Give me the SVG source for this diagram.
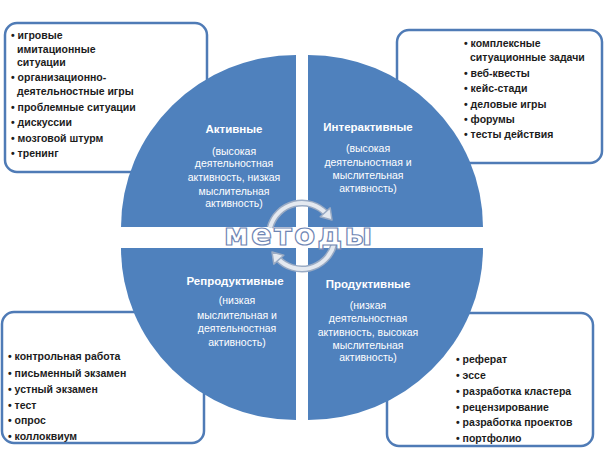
<svg xmlns="http://www.w3.org/2000/svg" width="614" height="461" viewBox="0 0 614 461">
<defs>
<style>
.box{fill:#ffffff;stroke:#4f7bb6;stroke-width:2.5}
.quad{fill:#4f81bd}
.it{font-family:"Liberation Sans",Arial,sans-serif;font-size:10.5px;font-weight:bold;fill:#1c1c1c}
.qt{font-family:"Liberation Sans",Arial,sans-serif;font-size:11.5px;font-weight:bold;fill:#ffffff;text-anchor:middle}
.qd{font-family:"Liberation Sans",Arial,sans-serif;font-size:10.5px;fill:#ffffff;text-anchor:middle}
.arcO{fill:none;stroke:#9aabc4;stroke-width:7}
.arcI{fill:none;stroke:#e4e9f0;stroke-width:4}
.head{fill:#e4e9f0;stroke:#9aabc4;stroke-width:1.5;stroke-linejoin:round}
.big{font-family:"DejaVu Sans",Verdana,sans-serif;font-size:31px;font-weight:bold;fill:#ffffff;stroke:#6f86b4;stroke-width:1.2;letter-spacing:2px;text-anchor:middle}
</style>
</defs>
<rect width="614" height="461" fill="#ffffff"/>

<g id="box-active-list">
<rect class="box" x="5" y="23" width="202" height="149" rx="12"/>
<text class="it" x="11" y="39">• игровые</text>
<text class="it" x="17" y="53">имитационные</text>
<text class="it" x="17" y="66">ситуации</text>
<text class="it" x="11" y="81">• организационно-</text>
<text class="it" x="17" y="95">деятельностные игры</text>
<text class="it" x="11" y="111">• проблемные ситуации</text>
<text class="it" x="11" y="126">• дискуссии</text>
<text class="it" x="11" y="142">• мозговой штурм</text>
<text class="it" x="11" y="157">• тренинг</text>
</g>

<g id="box-interactive-list">
<rect class="box" x="397" y="30" width="205" height="133" rx="12"/>
<text class="it" x="464" y="47">• комплексные</text>
<text class="it" x="470" y="61">ситуационные задачи</text>
<text class="it" x="464" y="77">• веб-квесты</text>
<text class="it" x="464" y="92">• кейс-стади</text>
<text class="it" x="464" y="108">• деловые игры</text>
<text class="it" x="464" y="123">• форумы</text>
<text class="it" x="464" y="138">• тесты действия</text>
</g>

<g id="box-reproductive-list">
<rect class="box" x="2" y="312" width="202" height="131" rx="12"/>
<text class="it" x="8" y="360">• контрольная работа</text>
<text class="it" x="8" y="377">• письменный экзамен</text>
<text class="it" x="8" y="393">• устный экзамен</text>
<text class="it" x="8" y="409">• тест</text>
<text class="it" x="8" y="424">• опрос</text>
<text class="it" x="8" y="440">• коллоквиум</text>
</g>

<g id="box-productive-list">
<rect class="box" x="387" y="313" width="206" height="133" rx="12"/>
<text class="it" x="456" y="363">• реферат</text>
<text class="it" x="456" y="379">• эссе</text>
<text class="it" x="456" y="395">• разработка кластера</text>
<text class="it" x="456" y="411">• рецензирование</text>
<text class="it" x="456" y="426">• разработка проектов</text>
<text class="it" x="456" y="442">• портфолио</text>
</g>

<g id="quad-active">
<path class="quad" d="M296,227 L121,227 A175,172 0 0 1 296,55 Z"/>
<text class="qt" x="234" y="133">Активные</text>
<text class="qd" x="234" y="155">(высокая</text>
<text class="qd" x="234" y="167">деятельностная</text>
<text class="qd" x="234" y="181">активность, низкая</text>
<text class="qd" x="234" y="195">мыслительная</text>
<text class="qd" x="234" y="207">активность)</text>
</g>

<g id="quad-interactive">
<path class="quad" d="M308,227 L308,55 A175,172 0 0 1 483,227 Z"/>
<text class="qt" x="368" y="131">Интерактивные</text>
<text class="qd" x="368" y="152">(высокая</text>
<text class="qd" x="368" y="166">деятельностная и</text>
<text class="qd" x="368" y="179">мыслительная</text>
<text class="qd" x="368" y="192">активность)</text>
</g>

<g id="quad-reproductive">
<path class="quad" d="M296,248 L296,420 A175,172 0 0 1 121,248 Z"/>
<text class="qt" x="235" y="285">Репродуктивные</text>
<text class="qd" x="237" y="304">(низкая</text>
<text class="qd" x="237" y="319">мыслительная и</text>
<text class="qd" x="237" y="332">деятельностная</text>
<text class="qd" x="237" y="346">активность)</text>
</g>

<g id="quad-productive">
<path class="quad" d="M308,248 L483,248 A175,172 0 0 1 308,420 Z"/>
<text class="qt" x="368" y="288">Продуктивные</text>
<text class="qd" x="368" y="309">(низкая</text>
<text class="qd" x="368" y="322">деятельностная</text>
<text class="qd" x="368" y="336">активность, высокая</text>
<text class="qd" x="368" y="349">мыслительная</text>
<text class="qd" x="368" y="361">активность)</text>
</g>

<g id="center-methods">
<path class="arcO" d="M270.1,227.5 A33,33 0 0 1 326.5,213.9"/>
<path class="arcO" d="M333.9,244.5 A33,33 0 0 1 277.5,258.1"/>
<path class="arcI" d="M270.1,227.5 A33,33 0 0 1 326.5,213.9"/>
<path class="arcI" d="M333.9,244.5 A33,33 0 0 1 277.5,258.1"/>
<polygon class="head" points="332,220 320.2,216.8 330.2,207.9"/>
<polygon class="head" points="272,252 283.8,255.2 273.8,264.1"/>
<text class="big" x="299" y="245">методы</text>
</g>

<g id="connectors"></g>
</svg>
